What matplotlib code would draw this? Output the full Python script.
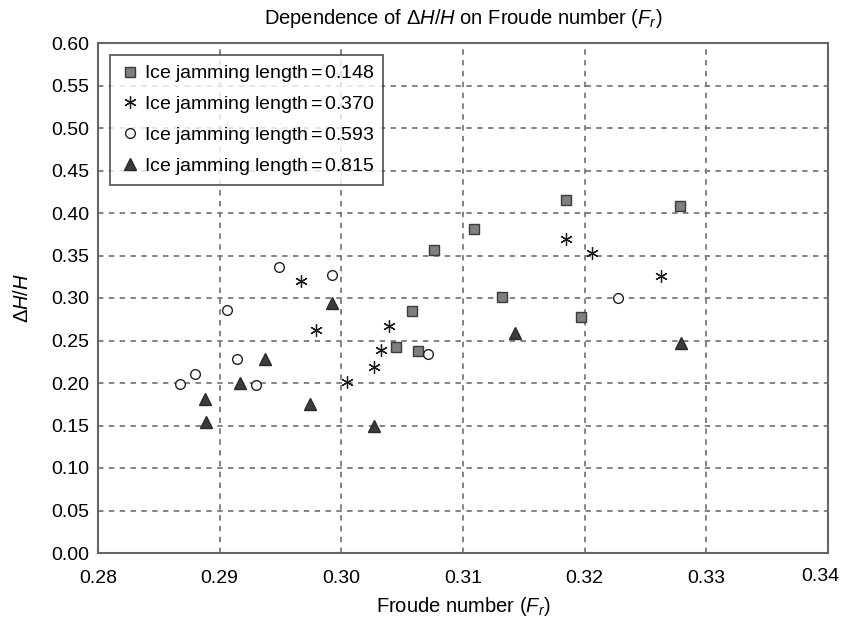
import numpy as np
from matplotlib import pyplot as plt
from matplotlib import transforms

plt.rcParams['font.family'] = ['Liberation Sans', 'DejaVu Sans']
plt.rcParams['mathtext.fontset'] = 'custom'
plt.rcParams['mathtext.rm'] = 'Liberation Sans'
plt.rcParams['mathtext.it'] = 'Liberation Sans:italic'

# jamming length 0.148
fr_148 = [0.3076, 0.3109, 0.3058, 0.3045, 0.3063, 0.3185, 0.3132, 0.3197, 0.3278]
dh_148 = [0.356, 0.381, 0.285, 0.242, 0.238, 0.415, 0.301, 0.278, 0.408]
# jamming length 0.370
fr_370 = [0.2967, 0.2979, 0.3039, 0.3033, 0.3027, 0.3005, 0.3185, 0.3206, 0.3263]
dh_370 = [0.320, 0.262, 0.267, 0.239, 0.219, 0.2015, 0.369, 0.353, 0.326]
# jamming length 0.593
fr_593 = [0.2949, 0.2992, 0.3071, 0.3227, 0.2906, 0.2914, 0.2880, 0.2867, 0.2930]
dh_593 = [0.336, 0.327, 0.234, 0.300, 0.286, 0.228, 0.211, 0.199, 0.198]
# jamming length 0.815
fr_815 = [0.2992, 0.2974, 0.3027, 0.3143, 0.3279, 0.2937, 0.2917, 0.2888, 0.2889]
dh_815 = [0.294, 0.175, 0.149, 0.259, 0.247, 0.228, 0.200, 0.181, 0.154]

labels = ['Ice jamming length$\\,$=$\\,$0.148', 'Ice jamming length$\\,$=$\\,$0.370',
          'Ice jamming length$\\,$=$\\,$0.593', 'Ice jamming length$\\,$=$\\,$0.815']

xt = np.arange(0.28, 0.3401, 0.01)
yt = np.arange(0, 0.6001, 0.05)

fig = plt.figure(figsize=(8.45, 6.28), dpi=100)
ax = fig.add_axes([98/845, 75/628, 730/845, 510/628])

ax.plot(fr_148, dh_148, 's', ms=7.5, mfc='#7f7f7f', mec='#3a3a3a', mew=1, label=labels[0])
ax.plot(fr_370, dh_370, ls='none', marker=(6, 2, 0), ms=9, mec='#1a1a1a', mew=0.9, label=labels[1])
ax.plot(fr_593, dh_593, 'o', ms=7, mfc='white', mec='#222222', mew=1, label=labels[2])
ax.plot(fr_815, dh_815, '^', ms=8.5, mfc='#3c3c3c', mec='#2a2a2a', mew=1, label=labels[3])

ax.set_xlim(0.28, 0.34)
ax.set_ylim(0, 0.6)
ax.set_xticks(xt)
ax.set_yticks(yt)
ax.set_xticklabels(['%.2f' % v for v in xt])
ax.set_yticklabels(['%.2f' % v for v in yt])
ax.tick_params(length=0, labelsize=14)
ax.tick_params(axis='x', pad=12)
ax.tick_params(axis='y', pad=6)
# last x label sits inside the figure edge like the original
last = ax.get_xticklabels()[-1]
last.set_transform(last.get_transform() + transforms.ScaledTranslation(-8/100, 2/100, fig.dpi_scale_trans))

ax.grid(True, ls=(0, (3, 3)), color='#7a7a7a', lw=1.3)
for s in ax.spines.values():
    s.set_color('#666666')
    s.set_linewidth(1.5)

ax.set_title('Dependence of $\\Delta H/H$ on Froude number ($F_r$)', fontsize=14.5, pad=14)
ax.set_xlabel('Froude number ($F_r$)', fontsize=14.5, labelpad=6)
ax.set_ylabel('$\\Delta H/H$', fontsize=14.5, labelpad=14)

leg = ax.legend(loc='upper left', fontsize=14, frameon=True, fancybox=False,
                edgecolor='#222222', handletextpad=0.1, handlelength=1.2,
                borderpad=0.45, labelspacing=0.5, borderaxespad=0.6)
leg.get_frame().set_linewidth(1.2)

plt.savefig('out.png', dpi=100)
